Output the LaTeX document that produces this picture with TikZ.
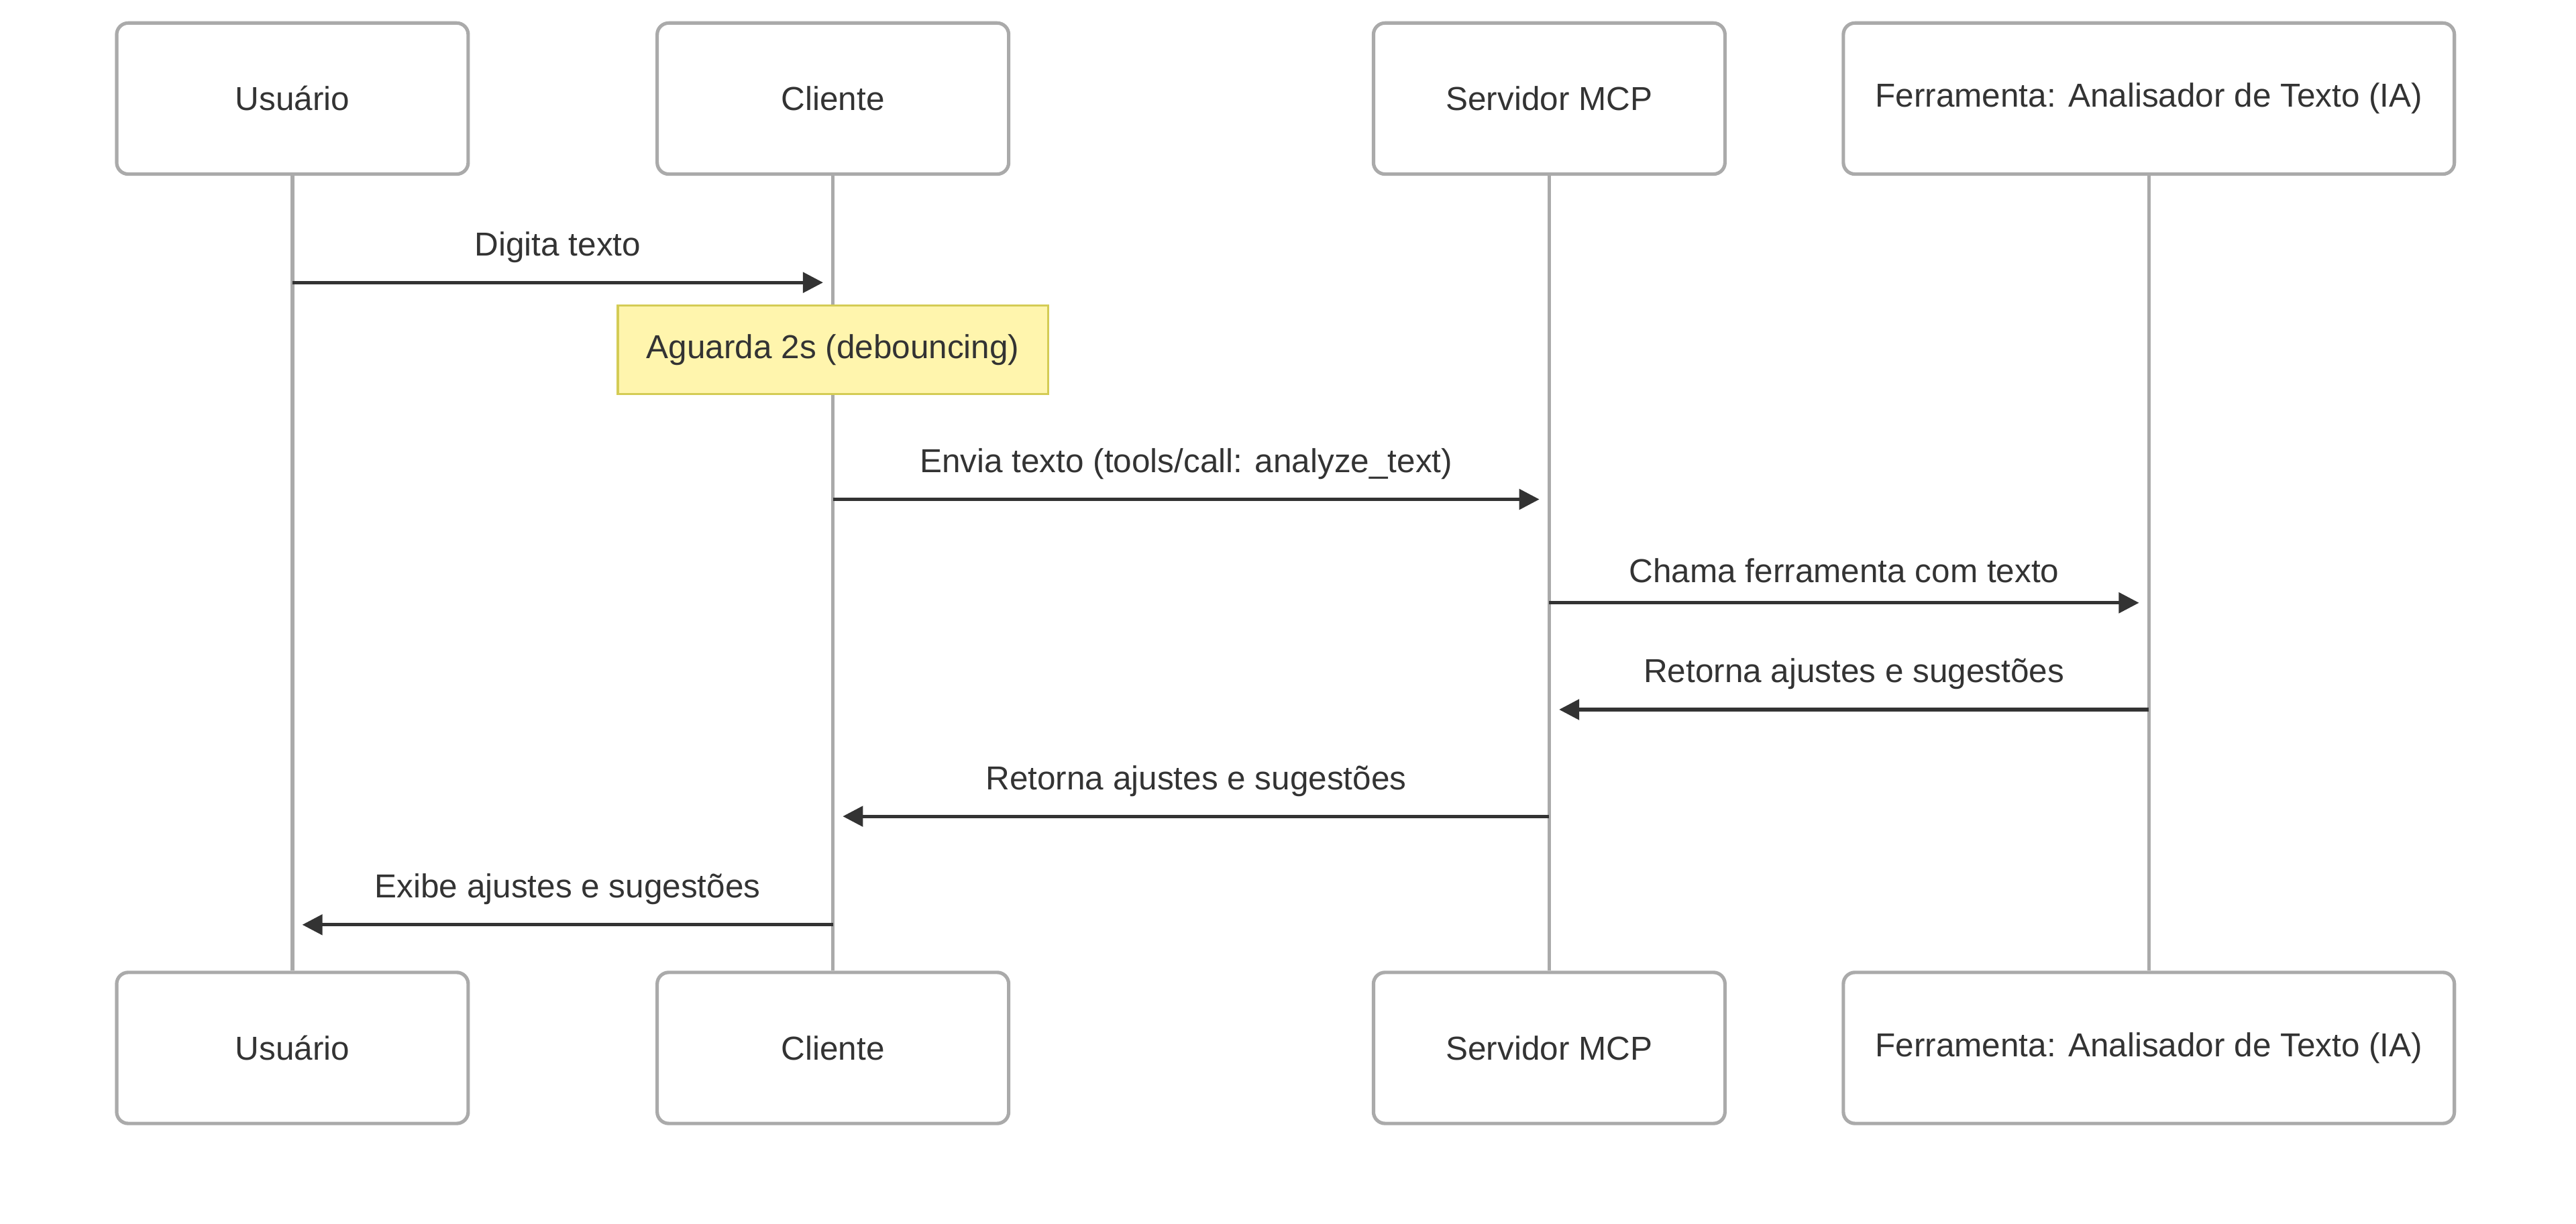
\documentclass[tikz,border=0pt]{standalone}
\usepackage{fontspec}
\setmainfont{Liberation Sans}
\usetikzlibrary{positioning,arrows.meta}
\definecolor{boxline}{HTML}{AAAAAA}
\definecolor{msgline}{HTML}{333333}
\definecolor{notefill}{HTML}{FFF5AD}
\definecolor{noteline}{HTML}{D4CC55}
\begin{document}
\begin{tikzpicture}
		[x=0.02cm,y=-0.02cm,font=\fontsize{11.5}{13}\selectfont,text=msgline,
		actor/.style={rectangle,draw=boxline,fill=white,line width=1.2pt,rounded corners=4pt,minimum height=1.84cm,inner sep=0pt},
		life/.style={draw=boxline,line width=1.2pt},
		msg/.style={draw=msgline,line width=1.2pt,-{Triangle[length=7pt,width=7pt]}},
		note/.style={rectangle,draw=noteline,fill=notefill,line width=0.8pt,minimum width=5.24cm,minimum height=1.08cm,inner sep=0pt}]
		\useasboundingbox (0,0) rectangle (1568,745);
		% actors at the top
		\node [actor,minimum width=4.28cm] (u1) at (178,60) {Usuário};
		\node [actor,minimum width=4.28cm] (c1) at (507,60) {Cliente};
		\node [actor,minimum width=4.28cm] (s1) at (943,60) {Servidor MCP};
		\node [actor,minimum width=7.44cm] (f1) at (1308,60) {Ferramenta: Analisador de Texto (IA)};
		% actors at the bottom
		\node [actor,minimum width=4.28cm] (u2) at (178,638) {Usuário};
		\node [actor,minimum width=4.28cm] (c2) at (507,638) {Cliente};
		\node [actor,minimum width=4.28cm] (s2) at (943,638) {Servidor MCP};
		\node [actor,minimum width=7.44cm] (f2) at (1308,638) {Ferramenta: Analisador de Texto (IA)};
		% lifelines
		\draw [life] (u1) -- (u2);
		\draw [life] (c1) -- (c2);
		\draw [life] (s1) -- (s2);
		\draw [life] (f1) -- (f2);
		% messages
		\coordinate (m1a) at (178,172); \coordinate (m1b) at (501,172);
		\draw [msg] (m1a) -- (m1b) node [midway,above=3pt] {Digita texto};
		\node [note] (wait) at (507,213) {Aguarda 2s (debouncing)};
		\coordinate (m2a) at (507,304); \coordinate (m2b) at (937,304);
		\draw [msg] (m2a) -- (m2b) node [midway,above=3pt] {Envia texto (tools/call: analyze\_text)};
		\coordinate (m3a) at (943,367); \coordinate (m3b) at (1302,367);
		\draw [msg] (m3a) -- (m3b) node [midway,above=3pt] {Chama ferramenta com texto};
		\coordinate (m4a) at (1308,432); \coordinate (m4b) at (949,432);
		\draw [msg] (m4a) -- (m4b) node [midway,above=3pt] {Retorna ajustes e sugestões};
		\coordinate (m5a) at (943,497); \coordinate (m5b) at (513,497);
		\draw [msg] (m5a) -- (m5b) node [midway,above=3pt] {Retorna ajustes e sugestões};
		\coordinate (m6a) at (507,563); \coordinate (m6b) at (184,563);
		\draw [msg] (m6a) -- (m6b) node [midway,above=3pt] {Exibe ajustes e sugestões};
	\end{tikzpicture}
\end{document}
